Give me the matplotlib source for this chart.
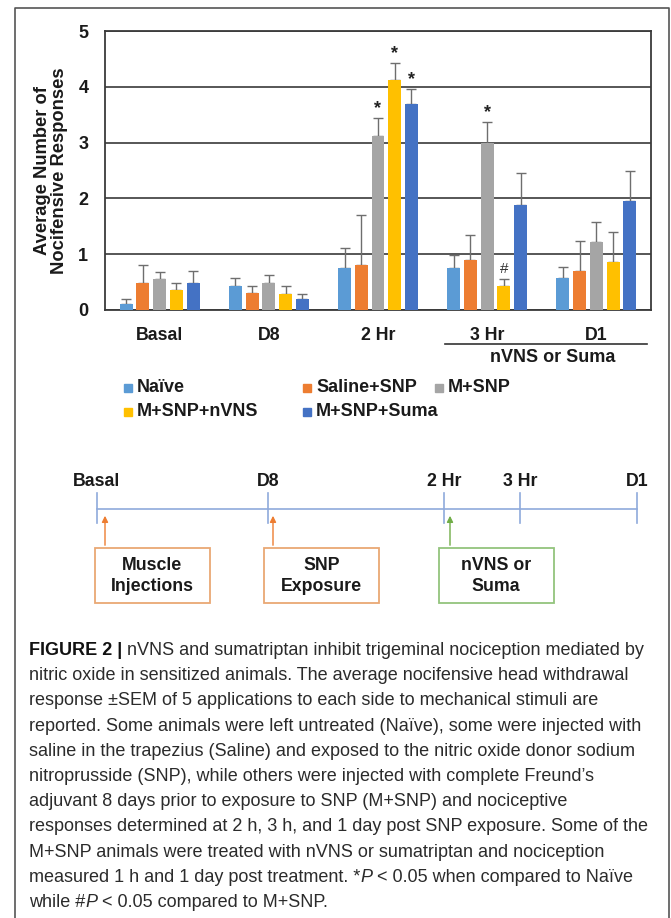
import matplotlib
matplotlib.use("Agg")
import matplotlib.pyplot as plt
from matplotlib.patches import Rectangle, FancyArrowPatch
from matplotlib import font_manager
import numpy as np

# ---- data ----
groups = ["Basal", "D8", "2 Hr", "3 Hr", "D1"]
series = ["Naïve", "Saline+SNP", "M+SNP", "M+SNP+nVNS", "M+SNP+Suma"]
colors = ["#5b9bd5", "#ed7d31", "#a5a5a5", "#ffc000", "#4472c4"]

naive = [0.10, 0.43, 0.76, 0.76, 0.58]
saline = [0.49, 0.30, 0.80, 0.89, 0.70]
msnp = [0.55, 0.49, 3.11, 2.99, 1.21]
nvns = [0.36, 0.29, 4.13, 0.43, 0.86]
suma = [0.49, 0.20, 3.69, 1.875, 1.95]

naive_sem = [0.10, 0.15, 0.35, 0.22, 0.19]
saline_sem = [0.31, 0.13, 0.90, 0.46, 0.53]
msnp_sem = [0.13, 0.14, 0.33, 0.38, 0.36]
nvns_sem = [0.13, 0.14, 0.30, 0.13, 0.54]
suma_sem = [0.21, 0.09, 0.27, 0.575, 0.54]

means = [naive, saline, msnp, nvns, suma]
sems = [naive_sem, saline_sem, msnp_sem, nvns_sem, suma_sem]

# (series, group, symbol)
sig_marks = [(2, 2, "*"), (3, 2, "*"), (4, 2, "*"), (2, 3, "*"), (3, 3, "#")]

tl_labels = ["Basal", "D8", "2 Hr", "3 Hr", "D1"]
events = ["Muscle\nInjections", "SNP\nExposure", "nVNS or\nSuma"]

caption = [
    [("FIGURE 2 | ", "bold"), ("nVNS and sumatriptan inhibit trigeminal nociception mediated by", "normal")],
    [("nitric oxide in sensitized animals. The average nocifensive head withdrawal", "normal")],
    [("response \u00b1SEM of 5 applications to each side to mechanical stimuli are", "normal")],
    [("reported. Some animals were left untreated (Na\u00efve), some were injected with", "normal")],
    [("saline in the trapezius (Saline) and exposed to the nitric oxide donor sodium", "normal")],
    [("nitroprusside (SNP), while others were injected with complete Freund\u2019s", "normal")],
    [("adjuvant 8 days prior to exposure to SNP (M+SNP) and nociceptive", "normal")],
    [("responses determined at 2 h, 3 h, and 1 day post SNP exposure. Some of the", "normal")],
    [("M+SNP animals were treated with nVNS or sumatriptan and nociception", "normal")],
    [("measured 1 h and 1 day post treatment. *", "normal"), ("P", "italic"),
     (" < 0.05 when compared to Na\u00efve", "normal")],
    [("while #", "normal"), ("P", "italic"), (" < 0.05 compared to M+SNP.", "normal")],
]

plt.rcParams['font.family'] = ['Liberation Sans', 'DejaVu Sans']
avail = {f.name for f in font_manager.fontManager.ttflist}
cap_font = "Liberation Sans Narrow" if "Liberation Sans Narrow" in avail else "Liberation Sans"

W, H = 671, 918
fig = plt.figure(figsize=(W / 100, H / 100), dpi=100)

# overlay in pixel coordinates for the non-chart parts
ov = fig.add_axes([0, 0, 1, 1])
ov.set_xlim(0, W)
ov.set_ylim(H, 0)
ov.axis("off")

# outer frame (open at the bottom)
ov.plot([15, 15, 669, 669], [H, 8, 8, H], color="#555555", lw=1.2)

# ---- bar chart ----
ax = fig.add_axes([105 / W, 1 - 310 / H, 546 / W, 279 / H])
x = np.arange(len(groups))
step, bw = 0.153, 0.119
for i, (m, s) in enumerate(zip(means, sems)):
    xs = x + (i - 2) * step
    ax.errorbar(xs, m, yerr=[np.zeros(len(s)), s], fmt="none", ecolor="#6e6e6e",
                elinewidth=1, capsize=3.5, capthick=1, zorder=2)
    ax.bar(xs, m, bw, color=colors[i], zorder=3, label=series[i])

for si, gi, sym in sig_marks:
    top = means[si][gi] + sems[si][gi]
    if sym == "*":
        ax.text(gi + (si - 2) * step, top + 0.02, "*", ha="center", va="bottom",
                fontsize=13, fontweight="bold", color="#222222")
    else:
        ax.text(gi + (si - 2) * step, top + 0.05, sym, ha="center", va="bottom",
                fontsize=11, color="#333333")

ax.set_xlim(-0.5, len(groups) - 0.5)
ax.set_ylim(0, 5)
ax.set_yticks(range(6))
ax.yaxis.grid(True, color="#3a3a3a", lw=1.2)
ax.set_axisbelow(True)
ax.set_xticks(x)
ax.set_xticklabels(groups)
ax.tick_params(length=0, labelsize=12.8, colors="#1a1a1a")
ax.tick_params(axis="x", pad=12)
ax.tick_params(axis="y", pad=12, labelsize=13)
for lab in ax.get_xticklabels() + ax.get_yticklabels():
    lab.set_fontweight("bold")
for sp in ax.spines.values():
    sp.set_color("#3a3a3a")
    sp.set_linewidth(1.3)
ax.set_ylabel("Average Number of\nNocifensive Responses", fontsize=13.2,
              fontweight="bold", color="#1a1a1a", linespacing=1.0)
ax.yaxis.label.set_va("center")
ax.yaxis.set_label_coords(-0.098, 0.5)

# bracket under treated time points
ov.plot([445, 647], [344, 344], color="#333333", lw=1.2)
ov.text(553, 358, "nVNS or Suma", ha="center", va="center", fontsize=13,
        fontweight="bold", color="#1a1a1a")

# ---- legend (drawn by hand to keep Excel-like placement) ----
leg_pos = [(128, 388), (307, 388), (439, 388), (128, 412), (307, 412)]
for (lx, ly), name, c in zip(leg_pos, series, colors):
    ov.add_patch(Rectangle((lx - 4, ly - 4), 8, 8, color=c))
    ov.text(lx + 9, ly, name, ha="left", va="center", fontsize=13,
            fontweight="bold", color="#1a1a1a")

# ---- timeline ----
tl_x = [97, 268, 444, 520, 637]
tl_y = 509
line_c = "#8faadc"
ov.plot([tl_x[0], tl_x[-1]], [tl_y, tl_y], color=line_c, lw=1.2)
for tx, lab in zip(tl_x, tl_labels):
    ov.plot([tx, tx], [493, 523], color=line_c, lw=1.2)
    ov.text(tx, 482, lab, ha="center", va="center", fontsize=12.8,
            fontweight="bold", color="#1a1a1a")

ev_arrow_x = [105, 273, 450]
ev_box_x = [94.5, 264, 438.5]
ev_arrow_c = ["#ed7d31", "#ed7d31", "#70ad47"]
ev_box_c = ["#e9a874", "#e9a874", "#93c47d"]
for ex, bx, ac, bc, lab in zip(ev_arrow_x, ev_box_x, ev_arrow_c, ev_box_c, events):
    ov.add_patch(FancyArrowPatch((ex, 548), (ex, 513), arrowstyle="-|>",
                                 mutation_scale=9, color=ac, lw=1))
    ov.add_patch(Rectangle((bx, 548), 115, 55, fill=False, edgecolor=bc, lw=1.3))
    ov.text(bx + 57.5, 576, lab, ha="center", va="center", fontsize=12.8,
            fontweight="bold", color="#1a1a1a", linespacing=1.35)

# ---- caption ----
renderer = fig.canvas.get_renderer()
cap_size = 13.0


def seg_width(s, **kw):
    t = ov.text(0, 0, "|" + s + "|", **kw)
    t0 = ov.text(0, 0, "||", **kw)
    w = t.get_window_extent(renderer).width - t0.get_window_extent(renderer).width
    t.remove()
    t0.remove()
    return w


for li, segs in enumerate(caption):
    cx = 29
    cy = 655 + 25.2 * li
    for txt, style in segs:
        kw = dict(fontsize=cap_size, family=[cap_font, "DejaVu Sans"], color="#2b2b2b")
        if style == "bold":
            kw["fontweight"] = "bold"
            kw["color"] = "#111111"
        elif style == "italic":
            kw["fontstyle"] = "italic"
        ov.text(cx, cy, txt, ha="left", va="baseline", **kw)
        cx += seg_width(txt, **kw)

fig.savefig("out.png", dpi=100)
